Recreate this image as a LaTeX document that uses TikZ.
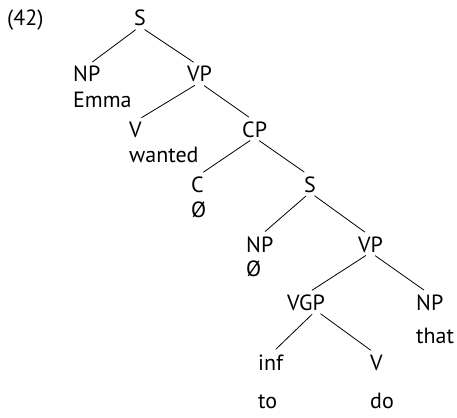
\documentclass[tikz,border=0pt]{standalone}
\usepackage{fontspec}
\setmainfont{PT Sans}
\usetikzlibrary{positioning}

\begin{document}
\begin{tikzpicture}[
    x=1pt, y=-1pt,
    % syntax tree styles
    cat/.style={inner sep=0pt, anchor=base west, font=\fontsize{22}{26}\selectfont},
    word/.style={cat},
    branch/.style={draw, line width=0.8pt, shorten <=5.5pt, shorten >=7pt}
  ]
  \useasboundingbox (0,0) rectangle (457,417);

  % Example number
  \node[cat] (exnum) at (7,26) {(42)};
  % Categories
  \node[cat] (s1) at (134,26) {S};
  \node[cat] (np1) at (73,82) {NP};
  \node[cat] (vp1) at (187,82) {VP};
  \node[cat] (v1) at (129,137) {V};
  \node[cat] (cp1) at (242,137) {CP};
  \node[cat] (c1) at (191,192) {C};
  \node[cat] (s2) at (304,192) {S};
  \node[cat] (np2) at (246,252) {NP};
  \node[cat] (vp2) at (358,252) {VP};
  \node[cat] (vgp) at (287,310) {VGP};
  \node[cat] (np3) at (416,310) {NP};
  \node[cat] (inf) at (258,370) {inf};
  \node[cat] (v2) at (370,370) {V};
  % Words
  \node[word, below=25pt of np1.base west, anchor=base west] (emma) {Emma};
  \node[word, below=25pt of v1.base west, anchor=base west] (wanted) {wanted};
  \node[word, below=25pt of c1.base west, anchor=base west] (nullc) {Ø};
  \node[word, below=24pt of np2.base west, anchor=base west] (nullnp) {Ø};
  \node[word, below=33pt of np3.base west, anchor=base west] (that) {that};
  \node[word, below=38pt of inf.base west, anchor=base west] (to) {to};
  \node[word, below=38pt of v2.base west, anchor=base west] (do) {do};

  % Branches
  \draw[branch] (s1.south) -- (np1.north);
  \draw[branch] (s1.south) -- (vp1.north);
  \draw[branch] (vp1.south) -- (v1.north);
  \draw[branch] (vp1.south) -- (cp1.north);
  \draw[branch] (cp1.south) -- (c1.north);
  \draw[branch] (cp1.south) -- (s2.north);
  \draw[branch] (s2.south) -- (np2.north);
  \draw[branch] (s2.south) -- (vp2.north);
  \draw[branch] (vp2.south) -- (vgp.north);
  \draw[branch] (vp2.south) -- (np3.north);
  \draw[branch] ([xshift=10pt]vgp.south) -- (inf.north);
  \draw[branch] ([xshift=10pt]vgp.south) -- (v2.north);
\end{tikzpicture}
\end{document}
